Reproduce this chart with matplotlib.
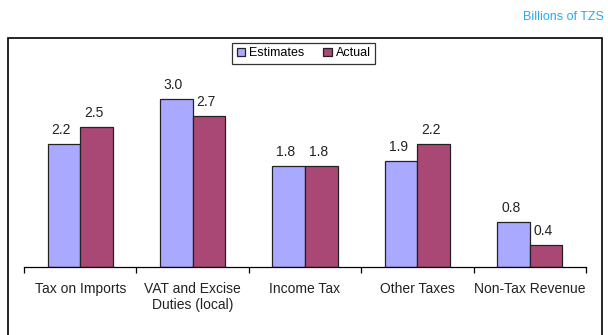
import matplotlib.pyplot as plt
import numpy as np
from matplotlib.patches import Rectangle

plt.rcParams['font.family'] = ['Liberation Sans', 'DejaVu Sans']

categories = ['Tax on Imports', 'VAT and Excise\nDuties (local)', 'Income Tax',
              'Other Taxes', 'Non-Tax Revenue']
estimates = [2.2, 3.0, 1.8, 1.9, 0.8]
actual = [2.5, 2.7, 1.8, 2.2, 0.4]

est_color = '#A9AAFF'
act_color = '#A94874'

fig = plt.figure(figsize=(6.08, 3.35), dpi=100)

# outer chart border (open at the bottom)
fig.patches.append(Rectangle((8 / 608, -0.05), 594 / 608, 1.05 - 38 / 335,
                             transform=fig.transFigure, fill=False,
                             edgecolor='black', linewidth=1.2))

ax = fig.add_axes([24 / 608, 68 / 335, 562 / 608, 196 / 335])

x = np.arange(len(categories))
w = 0.29
b1 = ax.bar(x - w / 2, estimates, w, color=est_color, edgecolor='#222222',
            linewidth=0.9, label='Estimates')
b2 = ax.bar(x + w / 2, actual, w, color=act_color, edgecolor='#222222',
            linewidth=0.9, label='Actual')

for bars, vals in ((b1, estimates), (b2, actual)):
    for r, v in zip(bars, vals):
        ax.annotate(f'{v:.1f}', (r.get_x() + r.get_width() / 2, v),
                    xytext=(-2, 5), textcoords='offset points',
                    ha='center', va='bottom', fontsize=10, color='#222222')

ax.set_xlim(-0.5, len(categories) - 0.5)
ax.set_ylim(0, 3.5)
ax.set_yticks([])
for s in ('left', 'right', 'top'):
    ax.spines[s].set_visible(False)
ax.spines['bottom'].set_linewidth(0.9)

ax.set_xticks(x)
ax.set_xticklabels(categories, fontsize=10, color='#222222', linespacing=1.25)
ax.tick_params(axis='x', which='major', length=0, pad=10.5)
ax.set_xticks(np.arange(-0.5, len(categories)), minor=True)
ax.tick_params(axis='x', which='minor', length=4, width=0.9, direction='out')

fig.legend(loc='upper center', bbox_to_anchor=(303.5 / 608, 1 - 43 / 335),
           ncol=2, fontsize=9, frameon=True, fancybox=False,
           edgecolor='black', handlelength=0.7, handleheight=0.7,
           handletextpad=0.3, columnspacing=1.5, borderpad=0.35,
           borderaxespad=0).get_frame().set_linewidth(0.9)

fig.text(604 / 608, 1 - 17 / 335, 'Billions of TZS', ha='right', va='center',
         fontsize=9, color='#29A9F0')

fig.savefig('out.png', dpi=100)
